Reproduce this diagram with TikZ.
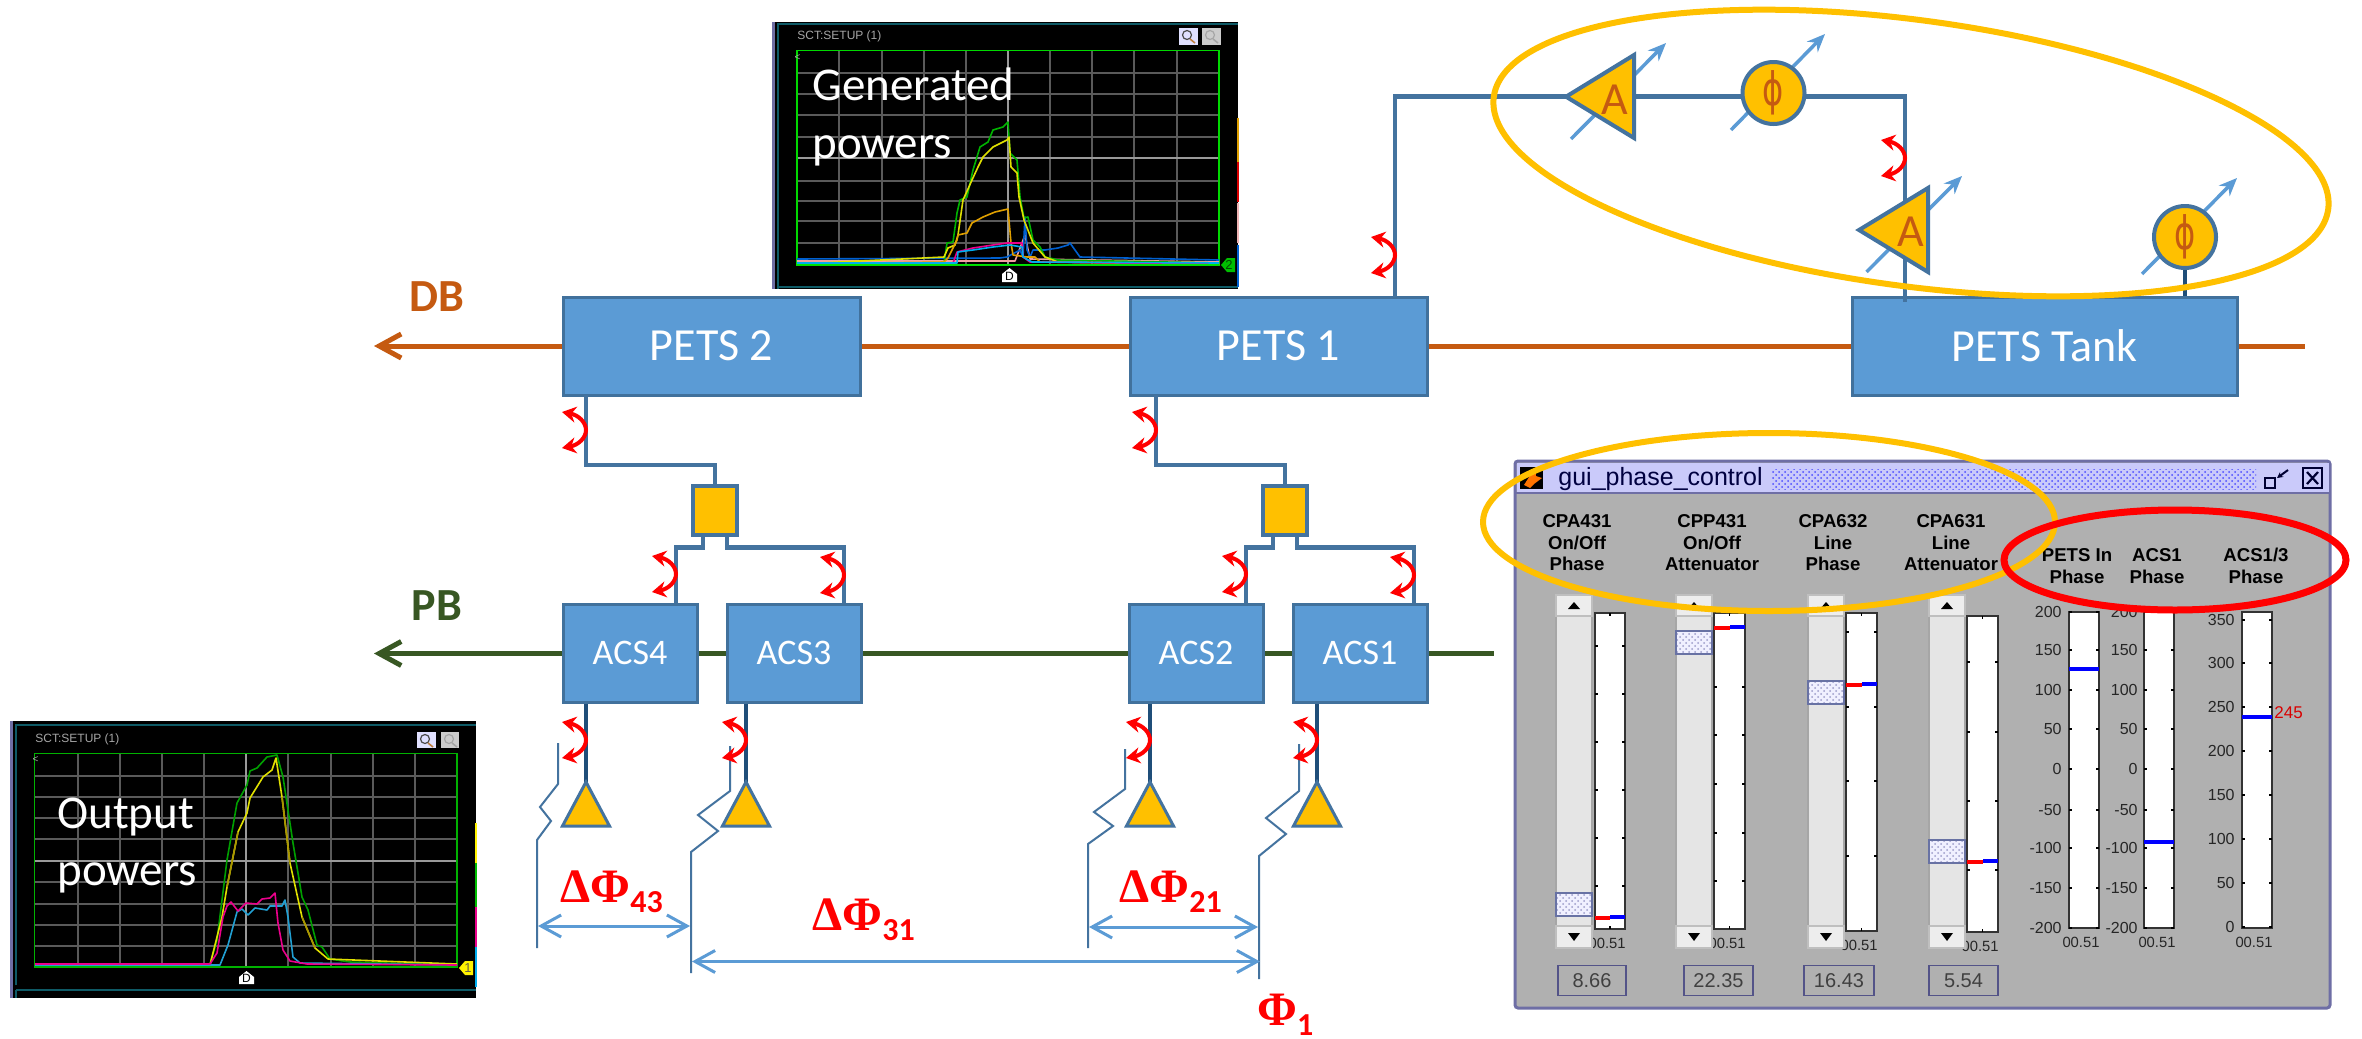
\documentclass[tikz,border=0pt]{standalone}
\usepackage{fontspec}
\setmainfont{Carlito}
\newfontfamily\wfont{Liberation Sans}
\newfontfamily\serfont{Liberation Serif}
\newfontfamily\dvfont{DejaVu Sans}
\usetikzlibrary{arrows.meta,patterns,shapes.geometric}
\definecolor{boxblue}{HTML}{5B9BD5}
\definecolor{boxedge}{HTML}{41719C}
\definecolor{wireblue}{HTML}{44739F}
\definecolor{darkwire}{HTML}{1F4E79}
\definecolor{amber}{HTML}{FFC000}
\definecolor{rust}{HTML}{C55A11}
\definecolor{pbgreen}{HTML}{385723}
\definecolor{redmark}{HTML}{FF0000}
\definecolor{wingray}{HTML}{B0B0B0}
\definecolor{winedge}{HTML}{6E6EA5}
\definecolor{winbar}{HTML}{CACAFA}
\definecolor{gridgray}{HTML}{5A5A5A}
\definecolor{gridlight}{HTML}{999999}
\definecolor{teal}{HTML}{0E5A66}
\tikzset{
  bluebox/.style={draw=boxedge,fill=boxblue,line width=1.5pt,inner sep=0pt,text=white},
  petsbox/.style={bluebox,minimum width=148.5pt,minimum height=49pt,font=\fontsize{23}{27}\selectfont},
  acsbox/.style={bluebox,minimum width=67pt,minimum height=49pt,font=\fontsize{18}{22}\selectfont},
  splitbox/.style={draw=wireblue,fill=amber,line width=2pt,inner sep=0pt,minimum width=22pt,minimum height=24.5pt},
  wire/.style={draw=wireblue,line width=2.25pt,line join=miter},
  downwire/.style={draw=darkwire,line width=2pt},
  antenna/.style={draw=wireblue,fill=amber,line width=1.5pt,line join=miter},
  amptri/.style={draw=wireblue,fill=amber,line width=2pt,line join=miter},
  ampletter/.style={text=rust,inner sep=0pt,font=\fontsize{23}{27}\selectfont},
  phasecirc/.style={circle,draw=wireblue,fill=amber,line width=2pt,minimum size=31pt,inner sep=0pt,text=rust,font=\dvfont\fontsize{23}{27}\selectfont},
  tune/.style={draw=boxblue,line width=1.75pt,-{Stealth[length=9pt,width=7.5pt]}},
  breakline/.style={draw=wireblue,line width=1pt,line join=miter},
  dimline/.style={draw=boxblue,line width=1.5pt,{Straight Barb[length=10pt,width=11pt]}-{Straight Barb[length=10pt,width=11pt]}},
  twistline/.style={draw=redmark,line width=2pt,{Stealth[length=7pt,width=8pt]}-{Stealth[length=7pt,width=8pt]}},
  redlabel/.style={text=redmark,anchor=base west,inner sep=0pt},
  hugeword/.style={text=white,anchor=base west,inner sep=0pt,font=\fontsize{23.5}{27}\selectfont},
  sctlabel/.style={text=gray!70!white,anchor=west,inner sep=0pt,font=\wfont\fontsize{6}{7}\selectfont},
  wintext/.style={inner sep=0pt,font=\wfont\fontsize{8}{9}\selectfont,text=black!85},
  collabel/.style={inner sep=0pt,align=center,text=black,font=\wfont\bfseries\fontsize{9.3}{10.75}\selectfont},
  tracebox/.style={line width=.8pt,line join=round},
  hatchfill/.style={pattern=crosshatch dots,pattern color=#1},
  buspath/.style={line width=2.5pt},
  ringamber/.style={draw=amber,line width=3pt},
  ringred/.style={draw=redmark,line width=3.5pt},
}
\newcommand\twistar[2]{\draw[twistline] ({#1-24},{#2-18}) .. controls ({#1-8},{#2-15}) and ({#1},{#2-8}) .. (#1,#2) .. controls ({#1},{#2+8}) and ({#1-8},{#2+15}) .. ({#1-24},{#2+18});}
\newcommand\redphi[2]{{\serfont\bfseries\fontsize{24}{28}\selectfont #1}\raisebox{-5pt}{\bfseries\fontsize{16}{18}\selectfont #2}}
\begin{document}
\begin{tikzpicture}[x=.5pt,y=-.5pt]
\useasboundingbox (0,0) rectangle (2362,1039);
\fill[white] (0,0) rectangle (2362,1039);

% beam lines
\coordinate (dbl) at (374,346); \coordinate (dbr) at (2305,346);
\coordinate (pbl) at (374,653.5); \coordinate (pbr) at (1494,653.5);
\draw[buspath,draw=rust,{Straight Barb[length=11pt,width=12pt]}-] (dbl) -- (dbr);
\draw[buspath,draw=pbgreen,{Straight Barb[length=11pt,width=12pt]}-] (pbl) -- (pbr);
\node[text=rust,inner sep=0pt,font=\bfseries\fontsize{23}{27}\selectfont] (dblabel) at (437,297) {DB};
\node[text=pbgreen,inner sep=0pt,font=\bfseries\fontsize{23}{27}\selectfont] (pblabel) at (437,606) {PB};

% boxes
\node[petsbox] (pets2) at (711.5,346) {PETS 2};
\node[petsbox] (pets1) at (1278.5,346) {PETS 1};
\node[petsbox,minimum width=192.5pt] (tank) at (2044.5,346) {PETS Tank};
\node[acsbox] (acs4) at (630,653) {ACS4};
\node[acsbox] (acs3) at (794,653) {ACS3};
\node[acsbox] (acs2) at (1196,653) {ACS2};
\node[acsbox] (acs1) at (1360,653) {ACS1};
\node[splitbox] (split2) at (715,510.5) {};
\node[splitbox] (split1) at (1285,510.5) {};

% waveguides
\coordinate (w2) at (586,395); \coordinate (j2) at (715,465);
\draw[wire] (w2) |- (j2) -- (split2.north);
\coordinate (w1) at (1156,395); \coordinate (j1) at (1285,465);
\draw[wire] (w1) |- (j1) -- (split1.north);
\coordinate (s2l) at (703,535); \coordinate (c4) at (676,547.5);
\coordinate (s2r) at (727,535); \coordinate (c3) at (844,547.5);
\draw[wire] (s2l) |- (c4) -- (c4 |- acs4.north);
\draw[wire] (s2r) |- (c3) -- (c3 |- acs3.north);
\coordinate (s1l) at (1273,535); \coordinate (c2) at (1246,547.5);
\coordinate (s1r) at (1297,535); \coordinate (c1) at (1414,547.5);
\draw[wire] (s1l) |- (c2) -- (c2 |- acs2.north);
\draw[wire] (s1r) |- (c1) -- (c1 |- acs1.north);

% antennas
\foreach \nm/\ax in {acs4/586,acs3/746,acs2/1150,acs1/1317}{
  \coordinate (ant\nm) at (\ax,782);
  \draw[downwire] (\nm.south -| ant\nm) -- (ant\nm);
  \draw[antenna] (ant\nm) -- ++(-23.5,44) -- ++(47,0) -- cycle;
}

% upper line with amplifiers and phase shifters
\coordinate (up0) at (1395,297); \coordinate (up1) at (1905,96.7); \coordinate (up2) at (1905,302);
\draw[wire] (up0) |- (up1) -- (up2);
\coordinate (tw1a) at (1571,139); \coordinate (tw1b) at (1666,43);
\coordinate (tw2a) at (1731,130); \coordinate (tw2b) at (1825,34);
\coordinate (tw3a) at (1866.5,272); \coordinate (tw3b) at (1962,176);
\coordinate (tw4a) at (2142,274); \coordinate (tw4b) at (2237,178);
\draw[tune] (tw1a) -- (tw1b);
\draw[tune] (tw2a) -- (tw2b);
\draw[tune] (tw3a) -- (tw3b);
\draw[tune] (tw4a) -- (tw4b);
\draw[amptri] (1566,96.7) -- (1634,55) -- (1634,138) -- cycle;
\node[ampletter] (ampa) at (1615,100) {A};
\draw[amptri] (1859,230) -- (1928,188) -- (1928,272) -- cycle;
\node[ampletter] (ampb) at (1911,232) {A};
\node[phasecirc] (ph1) at (1773.5,93) {\scalebox{.7}[1]{ϕ}};
\node[phasecirc] (ph2) at (2185,237) {\scalebox{.7}[1]{ϕ}};
\draw[downwire] (ph2.south) -- (ph2.south |- tank.north);

% reference break lines
\draw[breakline] (558,743) -- (558,784) -- (540,807) -- (551,821) -- (537,840) -- (537,948);
\draw[breakline] (730,746) -- (730,791) -- (698,815) -- (718,831) -- (691,852) -- (691,973);
\draw[breakline] (1125,749) -- (1125,789) -- (1094,812) -- (1113,826) -- (1088,844) -- (1088,948);
\draw[breakline] (1299,744) -- (1299,791) -- (1266,818) -- (1286,834) -- (1259,856) -- (1259,979);

% dimension arrows
\coordinate (d43a) at (538,926); \coordinate (d43b) at (690,926);
\coordinate (d21a) at (1089,927); \coordinate (d21b) at (1258,927);
\coordinate (d31a) at (692,961.5); \coordinate (d31b) at (1260,961.5);
\draw[dimline] (d43a) -- (d43b);
\draw[dimline] (d21a) -- (d21b);
\draw[dimline] (d31a) -- (d31b);
\node[redlabel] (dphi43) at (560,902) {\redphi{ΔΦ}{43}};
\node[redlabel] (dphi31) at (812,930) {\redphi{ΔΦ}{31}};
\node[redlabel] (dphi21) at (1119,902) {\redphi{ΔΦ}{21}};
\node[redlabel] (phione) at (1257,1025) {\redphi{Φ}{1}};

% phase twist marks
\twistar{586}{430}\twistar{676}{574}\twistar{844}{575}\twistar{586}{740}\twistar{746}{740}
\twistar{1156}{430}\twistar{1246}{574}\twistar{1414}{575}\twistar{1150}{740}\twistar{1317}{740}
\twistar{1905}{158}\twistar{1395}{255}

% ---------- upper oscilloscope ----------
\fill[black] (772,22) rectangle (1238,289);
\fill[winedge] (772,22) rectangle (775,289);
\draw[teal,line width=.8pt] (778,289) -- (778,24) -- (1238,24);
\draw[teal,line width=.8pt] (778,287) -- (1238,287);
\foreach \gx in {839,882,924,966,1050,1092,1134,1177}{\draw[gridgray,line width=.7pt] (\gx,50.7) -- (\gx,265);}
\foreach \gy in {73,94,115,137,181,201,221,243}{\draw[gridgray,line width=.7pt] (797,\gy) -- (1219,\gy);}
\draw[gridlight,line width=.7pt] (1008,50.7) -- (1008,265);
\draw[gridlight,line width=.7pt] (797,158) -- (1219,158);
\draw[green!85!black,line width=.7pt] (797,50.7) rectangle (1219,265);
\node[sctlabel] (sct1) at (797,36) {SCT:SETUP (1)};
\node[text=gray!70!white,inner sep=0pt,font=\wfont\fontsize{5}{6}\selectfont] (lt1) at (797.5,58) {<};
\draw[tracebox,draw={rgb,255:red,240;green,160;blue,160}] (797,261) -- (1015,261) -- (1025,235) -- (1030,259) -- (1219,262);
\draw[tracebox,draw={rgb,255:red,0;green,96;blue,208}] (797,259) -- (1000,258) -- (1007,257) -- (1020,250) -- (1023,257) -- (1025,217) -- (1027,250) -- (1030,257) -- (1033,250) -- (1045,250) -- (1058,248) -- (1068,245) -- (1070,243) -- (1080,257) -- (1219,260);
\draw[tracebox,draw={rgb,255:red,0;green,180;blue,0}] (797,263) -- (944,263) -- (947,243) -- (953,242) -- (957,213) -- (960,200) -- (967,197) -- (973,170) -- (980,147) -- (988,142) -- (993,130) -- (1003,127) -- (1008,122) -- (1010,153) -- (1017,160) -- (1020,197) -- (1024,218) -- (1028,217) -- (1033,240) -- (1040,247) -- (1045,257) -- (1058,260) -- (1219,263);
\draw[tracebox,draw={rgb,255:red,224;green,224;blue,0}] (797,264) -- (944,257) -- (948,248) -- (955,245) -- (958,235) -- (963,200) -- (972,180) -- (978,167) -- (983,157) -- (993,147) -- (1007,140) -- (1009,137) -- (1011,167) -- (1017,173) -- (1019,197) -- (1024,220) -- (1033,243) -- (1045,257) -- (1058,262) -- (1219,264);
\draw[tracebox,draw={rgb,255:red,224;green,160;blue,0}] (797,264) -- (944,262) -- (948,258) -- (957,240) -- (958,235) -- (967,233) -- (972,223) -- (983,217) -- (995,212) -- (1008,209) -- (1011,243) -- (1013,255) -- (1027,257) -- (1035,257) -- (1040,262) -- (1219,264);
\draw[tracebox,draw=magenta] (797,264) -- (953,263) -- (957,252) -- (973,248) -- (993,245) -- (1007,243) -- (1022,243) -- (1023,257) -- (1030,262) -- (1219,264);
\draw[tracebox,draw=cyan] (797,263) -- (957,263) -- (958,252) -- (973,250) -- (993,247) -- (1010,245) -- (1022,247) -- (1023,257) -- (1032,262) -- (1219,263);
\draw[line width=.9pt,draw=green!90!black] (797,264.5) -- (1219,264.5);
\fill[white!88!blue] (1179,28) rectangle (1198,45);
\fill[white!80!black] (1202,28) rectangle (1221,45);
\draw[black!70,line width=.6pt] (1187,35) circle (4.5);
\draw[brown,line width=.8pt] (1190,39) -- (1195,43);
\draw[white!65!black,line width=.6pt] (1210,35) circle (4.5);
\draw[white!65!black,line width=.8pt] (1213,39) -- (1218,43);
\fill[white] (1002,282) -- (1002,274) -- (1009.5,268) -- (1017,274) -- (1017,282) -- cycle;
\node[inner sep=0pt,text=black,font=\wfont\fontsize{6}{7}\selectfont] (dm1) at (1009.5,276) {D};
\fill[green!75!black] (1221,265) -- (1227,258) -- (1235,258) -- (1235,272) -- (1227,272) -- cycle;
\node[inner sep=0pt,text=black!70!green,font=\wfont\fontsize{6.5}{7}\selectfont] (mk2) at (1229,265) {2};
\foreach \sa/\sb/\sc in {118/162/{rgb,255:red,224;green,160;blue,0},162/202/{rgb,255:red,220;green,0;blue,0},203/243/{rgb,255:red,240;green,180;blue,180},245/287/{rgb,255:red,0;green,96;blue,208}}{
  \draw[line width=.6pt,draw=\sc] (1238,\sa) -- (1238,\sb);}
\node[hugeword] (gen1) at (812,100) {Generated};
\node[hugeword] (gen2) at (812,158) {powers};

% ---------- lower oscilloscope ----------
\fill[black] (10,721) rectangle (476,998);
\fill[winedge] (10,721) rectangle (13,998);
\draw[teal,line width=.8pt] (16,985) -- (16,725) -- (476,725);
\draw[teal,line width=.8pt] (16,990) -- (476,990) (16,990) -- (16,998);
\foreach \gx in {78,120,162,204,288,331,373,415}{\draw[gridgray,line width=.7pt] (\gx,753.5) -- (\gx,967);}
\foreach \gy in {776,797,818,839,882,904,925,946}{\draw[gridgray,line width=.7pt] (34.5,\gy) -- (457,\gy);}
\draw[gridlight,line width=.7pt] (246,753.5) -- (246,967);
\draw[gridlight,line width=.7pt] (34.5,861) -- (457,861);
\draw[green!70!black,line width=.7pt] (34.5,753.5) rectangle (457,967);
\node[sctlabel] (sct2) at (35,739) {SCT:SETUP (1)};
\node[text=gray!70!white,inner sep=0pt,font=\wfont\fontsize{5}{6}\selectfont] (lt2) at (35.5,760) {<};
\draw[tracebox,draw={rgb,255:red,0;green,160;blue,0}] (35,965) -- (210,964) -- (217,940) -- (227,860) -- (237,803) -- (247,785) -- (250,771) -- (257,768) -- (267,757) -- (277,755) -- (283,777) -- (293,843) -- (302,897) -- (308,910) -- (317,945) -- (322,947) -- (330,959) -- (350,962) -- (457,965);
\draw[tracebox,draw={rgb,255:red,224;green,224;blue,0}] (35,965) -- (210,965) -- (222,917) -- (227,887) -- (238,832) -- (247,813) -- (250,798) -- (263,777) -- (272,770) -- (276,758) -- (282,797) -- (290,863) -- (302,917) -- (315,948) -- (328,959) -- (457,964);
\draw[tracebox,draw={rgb,255:red,170;green,150;blue,0}] (227,887) -- (238,832) (282,797) -- (290,863) (302,917) -- (315,948);
\draw[tracebox,draw=cyan!85!black] (35,965) -- (220,965) -- (228,945) -- (237,912) -- (242,909) -- (248,915) -- (255,908) -- (267,910) -- (270,906) -- (282,906) -- (285,900) -- (288,917) -- (293,957) -- (300,963) -- (457,965);
\draw[tracebox,draw=magenta] (35,964) -- (210,964) -- (217,953) -- (223,917) -- (227,906) -- (231,902) -- (238,911) -- (246,903) -- (257,904) -- (262,899) -- (270,898) -- (275,893) -- (278,923) -- (283,950) -- (290,961) -- (307,964) -- (457,965);
\draw[line width=.7pt,draw=green!70!black] (34.5,967) -- (457,967);
\fill[white!88!blue] (417,732) rectangle (436,748);
\fill[white!80!black] (441,732) rectangle (459,748);
\draw[black!70,line width=.6pt] (425,739) circle (4.5);
\draw[brown,line width=.8pt] (428,743) -- (433,747);
\draw[white!65!black,line width=.6pt] (449,739) circle (4.5);
\draw[white!65!black,line width=.8pt] (452,743) -- (457,747);
\fill[white] (239,984) -- (239,977) -- (246.5,971) -- (254,977) -- (254,984) -- cycle;
\node[inner sep=0pt,text=black,font=\wfont\fontsize{6}{7}\selectfont] (dm2) at (246.5,978.5) {D};
\fill[yellow] (459,968) -- (465,961) -- (473,961) -- (473,975) -- (465,975) -- cycle;
\node[inner sep=0pt,text=black!70!yellow,font=\wfont\fontsize{6.5}{7}\selectfont] (mk1) at (468,968) {1};
\foreach \sa/\sb/\sc in {823/863/yellow,863/907/{rgb,255:red,0;green,190;blue,0},907/947/magenta,947/987/cyan}{
  \draw[line width=.6pt,draw=\sc] (476,\sa) -- (476,\sb);}
\node[hugeword] (out1) at (57,828) {Output};
\node[hugeword] (out2) at (57,885) {powers};

% ---------- control window ----------
\draw[draw=winedge,fill=wingray,line width=1.5pt,rounded corners=1.5pt] (1515,461) rectangle (2330,1008);
\fill[winbar] (1516.5,462.5) rectangle (2328.5,492);
\draw[winedge,line width=1pt] (1516,493) -- (2329,493);
\fill[black] (1520,467) rectangle (1543,489);
\fill[orange!90!red] (1524,485) -- (1531,474) -- (1535,468) -- (1536,476) -- (1542,478) -- (1534,484) -- (1530,488) -- cycle;
\node[anchor=west,inner sep=0pt,text=black!75!blue,font=\wfont\fontsize{12.5}{15}\selectfont] (wintitle) at (1558,479) {gui\_phase\_control};
\path[hatchfill=blue!70!white] (1772,469) rectangle (2256,489);
\draw[black!80!blue,line width=.8pt] (2265,478) rectangle (2275,488);
\draw[black!80!blue,line width=1pt,-{Stealth[length=3pt,width=3pt]}] (2288,470) -- (2277,478);
\draw[black!80!blue,line width=1pt] (2303,468) rectangle (2322,488);
\draw[black!80!blue,line width=1.1pt] (2307,472) -- (2318,484) (2318,472) -- (2307,484);

\node[collabel] (lab1) at (1577,543) {CPA431\\On/Off\\Phase};
\node[collabel] (lab2) at (1712,543) {CPP431\\On/Off\\Attenuator};
\node[collabel] (lab3) at (1833,543) {CPA632\\Line\\Phase};
\node[collabel] (lab4) at (1951,543) {CPA631\\Line\\Attenuator};
\node[collabel] (lab5) at (2077,566) {PETS In\\Phase};
\node[collabel] (lab6) at (2157,566) {ACS1\\Phase};
\node[collabel] (lab7) at (2256,566) {ACS1/3\\Phase};

\foreach \cl/\cr/\ct/\cb/\tl/\th/\my/\tks [count=\n] in {
  1595/1625/613/929/1556/893/918/{646,694,742,790,838,886},
  1714/1745/613/929/1676/631/628/{687,735,784,833,881},
  1846/1877/613/931/1808/681/685/{632,707,781,856},
  1967/1998/616/932/1929/840/862/{662,732,801,870}}{
  \draw[fill=white,draw=black!80,line width=.8pt] (\cl,\ct) rectangle (\cr,\cb);
  \foreach \ty in \tks {\draw[black,line width=.6pt] (\cl,\ty) -- ++(3,0) (\cr,\ty) -- ++(-3,0);}
  \draw[black,line width=.6pt] ({(\cl+\cr)/2},\ct) -- ++(0,3) ({(\cl+\cr)/2},\cb) -- ++(0,-3);
  \node[wintext,font=\wfont\fontsize{7.4}{9}\selectfont,anchor=east] (tm\n) at ({\cr+1},{\cb+14}) {00.51};
  \fill[red] (\cl,{\my-2}) rectangle ({(\cl+\cr)/2},{\my+2});
  \fill[blue] ({(\cl+\cr)/2},{\my-3}) rectangle (\cr,{\my+1});
  % scrollbar
  \draw[fill=black!10,draw=black!35,line width=.8pt] (\tl,595) rectangle ({\tl+36},948);
  \draw[fill=black!7,draw=black!25,line width=.8pt] (\tl,595) rectangle ({\tl+36},616);
  \draw[fill=black!7,draw=black!25,line width=.8pt] (\tl,926) rectangle ({\tl+36},948);
  \fill[black] ({\tl+12},609) -- ({\tl+18},602) -- ({\tl+24},609) -- cycle;
  \fill[black] ({\tl+12},933) -- ({\tl+18},941) -- ({\tl+24},933) -- cycle;
  \fill[blue!6!white] (\tl,\th) rectangle ({\tl+36},{\th+23});
  \path[hatchfill=blue!30!gray!60!white] (\tl,\th) rectangle ({\tl+36},{\th+23});
  \draw[cyan!30!blue!50!gray,line width=.8pt] (\tl,\th) rectangle ({\tl+36},{\th+23});
}
\foreach \vl/\vr/\vt [count=\n] in {1558/1626/8.66,1684/1753/22.35,1804/1874/16.43,1929/1998/5.54}{
  \draw[draw=black!40!blue!35!gray,fill=wingray,line width=.8pt] (\vl,965.5) rectangle (\vr,995.5);
  \node[wintext,text=black!75,font=\wfont\fontsize{10}{12}\selectfont] (val\n) at ({(\vl+\vr)/2},980.5) {\vt};
}
% read-back charts
\foreach \cl/\cr/\my/\tx/\tc [count=\n] in {2069/2099/669/2062/2081,2144/2174/842/2138/2157}{
  \draw[fill=white,draw=black!80,line width=.8pt] (\cl,612) rectangle (\cr,928);
  \foreach \lb/\ty in {200/612,150/650,100/690,50/729,0/769,-50/810,-100/848,-150/888,-200/928}{
    \node[wintext,anchor=east] at (\tx,\ty) {\lb};
    \draw[black,line width=.6pt] (\cl,\ty) -- ++(3,0) (\cr,\ty) -- ++(-3,0);
  }
  \fill[blue] (\cl,{\my-2}) rectangle (\cr,{\my+2});
  \node[wintext,font=\wfont\fontsize{7.4}{9}\selectfont] (rt\n) at (\tc,942) {00.51};
}
\draw[fill=white,draw=black!80,line width=.8pt] (2242,612) rectangle (2272,928);
\foreach \lb/\ty in {350/620,300/663,250/707,200/751,150/795,100/839,50/883,0/927}{
  \node[wintext,anchor=east] at (2235,\ty) {\lb};
  \draw[black,line width=.6pt] (2242,\ty) -- ++(3,0) (2272,\ty) -- ++(-3,0);
}
\fill[blue] (2242,715) rectangle (2272,719);
\node[wintext,font=\wfont\fontsize{7.4}{9}\selectfont] (rt3) at (2254,942) {00.51};
\node[wintext,anchor=west,text=red!85!black,font=\wfont\fontsize{8.5}{10}\selectfont] (val245) at (2274,713) {245};

% highlight rings
\draw[ringamber,shift={(1911,153)},rotate=-7.67] (0,0) ellipse [x radius=421,y radius=133];
\draw[ringamber] (1769,522) ellipse [x radius=286,y radius=89];
\draw[ringred] (2175,560) ellipse [x radius=171,y radius=50];
\end{tikzpicture}
\end{document}
